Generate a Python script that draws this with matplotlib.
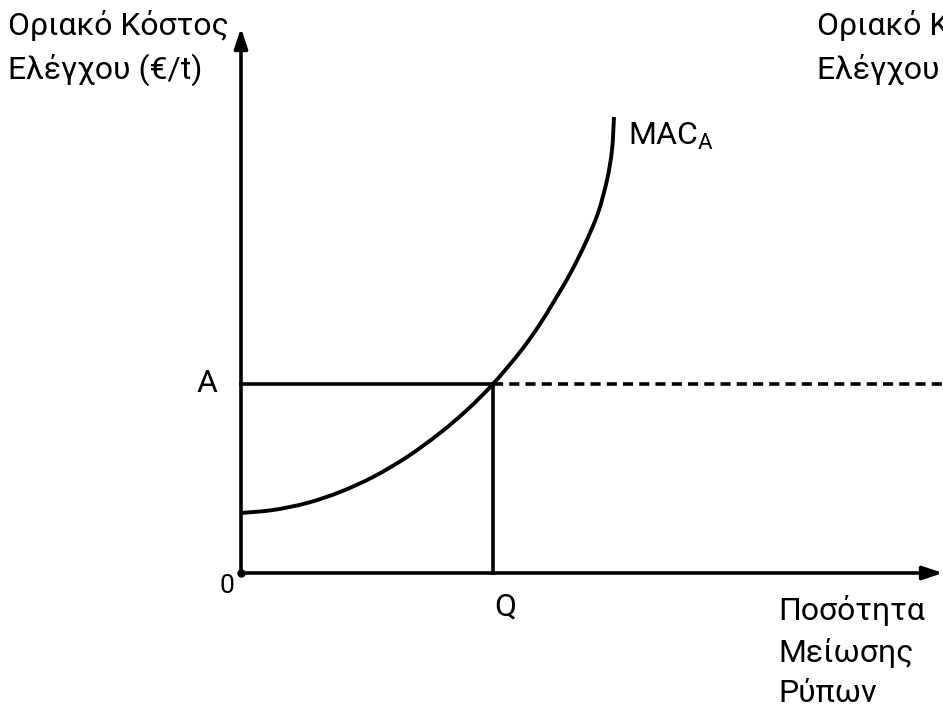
import matplotlib
matplotlib.use('Agg')
import matplotlib.pyplot as plt
from matplotlib.path import Path
from matplotlib.patches import PathPatch
import numpy as np

# ── Data (units: pixels from the origin of the diagram) ─────────────────────
mac_x = [0, 32, 66, 99, 132, 166, 199, 226, 252, 279, 297, 312, 329, 344, 357, 366, 371, 373]
mac_y = [60, 63, 70, 81, 96, 116, 140, 163, 189, 221, 246, 270, 299, 329, 360, 393, 423, 456]
q_level = 252      # Q on the horizontal axis
a_level = 189      # A on the vertical axis
x_max = 702
y_max = 545

plt.rcParams['font.family'] = ['Roboto', 'DejaVu Sans']


def smooth_path(xs, ys):
    """Catmull-Rom through the points, written as cubic Bezier segments."""
    pts = np.column_stack([xs, ys]).astype(float)
    verts = [pts[0]]
    codes = [Path.MOVETO]
    for i in range(len(pts) - 1):
        p0 = pts[max(i - 1, 0)]
        p1, p2 = pts[i], pts[i + 1]
        p3 = pts[min(i + 2, len(pts) - 1)]
        verts += [p1 + (p2 - p0) / 6, p2 - (p3 - p1) / 6, p2]
        codes += [Path.CURVE4] * 3
    return Path(verts, codes)


fig = plt.figure(figsize=(9.43, 7.14), dpi=100)
ax = fig.add_axes([0, 0, 1, 1])
ax.set_xlim(-241, 702)
ax.set_ylim(-141, 573)
ax.axis('off')

lw = 2.6
arrow = dict(arrowstyle='-|>,head_length=1.2,head_width=0.4', color='black',
             lw=lw, shrinkA=0, shrinkB=0)

# ── Axes with arrows ────────────────────────────────────────────────────────
ax.annotate('', xy=(0, y_max), xytext=(0, 0), arrowprops=arrow)
ax.annotate('', xy=(x_max, 0), xytext=(0, 0), arrowprops=arrow)
ax.plot([0], [0], 'o', color='black', ms=5)

# ── Curve and guide lines ───────────────────────────────────────────────────
ax.add_patch(PathPatch(smooth_path(mac_x, mac_y), facecolor='none',
                       edgecolor='black', lw=2.8, capstyle='butt'))
ax.plot([0, q_level], [a_level, a_level], color='black', lw=lw)
ax.plot([q_level, q_level], [0, a_level], color='black', lw=lw)
ax.plot([q_level, x_max], [a_level, a_level], color='black', lw=lw,
        linestyle=(0, (2.8, 1.7)))

# ── Labels ──────────────────────────────────────────────────────────────────
fs = 23
ax.text(-233, 563, 'Οριακό Κόστος\nΕλέγχου (€/t)', fontsize=fs, ha='left', va='top',
        linespacing=1.5)
ax.text(576, 563, 'Οριακό Κόστος\nΕλέγχου (€/t)', fontsize=fs, ha='left', va='top',
        linespacing=1.5, clip_on=True)
ax.text(-34, a_level, 'A', fontsize=fs, ha='center', va='center')
ax.text(-14, -13, '0', fontsize=19, ha='center', va='center')
ax.text(q_level + 12, -34, 'Q', fontsize=fs, ha='center', va='center')
ax.text(387, 428, 'MAC$_\\mathregular{A}$', fontsize=fs, ha='left', va='baseline')
ax.text(537, -22, 'Ποσότητα\nΜείωσης\nΡύπων', fontsize=fs, ha='left', va='top',
        linespacing=1.48)

fig.savefig('out.png', dpi=100)
